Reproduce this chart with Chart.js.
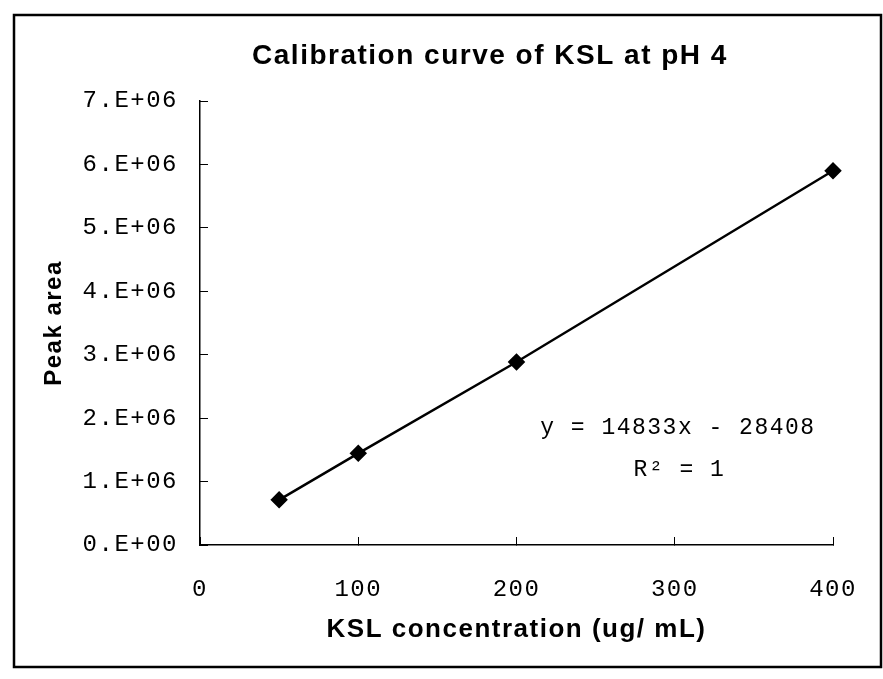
<!DOCTYPE html>
<html>
<head>
<meta charset="utf-8">
<title>Calibration curve of KSL at pH 4</title>
<script src="https://cdn.jsdelivr.net/npm/chart.js@4/dist/chart.umd.min.js"></script>
<style>
  html, body { margin: 0; padding: 0; background: #fff; }
  canvas { display: block; }
</style>
</head>
<body>
<canvas id="calChart" width="883" height="679"></canvas>
<script>
// data
var concentrations = [50, 100, 200, 400];            // ug/mL
var peakAreas = [712000, 1445000, 2885000, 5900000];  // peak area
var xTicks = [0, 100, 200, 300, 400];
var yTicks = [0, 1e6, 2e6, 3e6, 4e6, 5e6, 6e6, 7e6];
var chartTitle = 'Calibration curve of KSL at pH 4';
var equationLines = ['y = 14833x - 28408', 'R\u00b2 = 1'];

var mono = '"Liberation Mono", "DejaVu Sans Mono", monospace';
var sans = '"Liberation Sans", Arial, sans-serif';

function sciLabel(v) {
    if (v === 0) return '0.E+00';
    return Math.round(v / 1e6) + '.E+06';
}

// the scan has loosely spaced letters everywhere
// (canvas resize wipes the context state, so set it again before layout and draw)
function spaceOut(chart) { chart.ctx.letterSpacing = '1.5px'; }
var spacingPlugin = {
    id: 'spacing',
    beforeUpdate: spaceOut,
    beforeLayout: spaceOut,
    beforeDraw: spaceOut
};

// outer frame and the title
var framePlugin = {
    id: 'frame',
    beforeDraw: function (chart) {
        var ctx = chart.ctx;
        ctx.save();
        ctx.fillStyle = '#fff';
        ctx.fillRect(0, 0, chart.width, chart.height);
        ctx.strokeStyle = '#000';
        ctx.lineWidth = 2.5;
        ctx.strokeRect(14, 15, 867, 652);
        ctx.fillStyle = '#000';
        ctx.font = 'bold 28px ' + sans;
        ctx.textAlign = 'center';
        ctx.textBaseline = 'middle';
        ctx.fillText(chartTitle, 490, 56);
        ctx.restore();
    }
};

// trendline equation text
var equationPlugin = {
    id: 'equation',
    afterDatasetsDraw: function (chart) {
        var ctx = chart.ctx;
        var x = chart.scales.x, y = chart.scales.y;
        ctx.save();
        ctx.fillStyle = '#000';
        ctx.font = '23px ' + mono;
        ctx.textAlign = 'center';
        ctx.textBaseline = 'middle';
        ctx.fillText(equationLines[0], x.getPixelForValue(302), y.getPixelForValue(1.84e6));
        ctx.fillText(equationLines[1], x.getPixelForValue(303), y.getPixelForValue(1.18e6));
        ctx.restore();
    }
};

var ctx = document.getElementById('calChart').getContext('2d');
var chart = new Chart(ctx, {
    type: 'scatter',
    data: {
        datasets: [{
            data: concentrations.map(function (c, i) { return { x: c, y: peakAreas[i] }; }),
            showLine: true,
            borderColor: '#000',
            borderWidth: 2.5,
            backgroundColor: '#000',
            pointStyle: 'rectRot',
            pointRadius: 7,
            pointHoverRadius: 7,
            clip: false
        }]
    },
    options: {
        responsive: false,
        animation: false,
        layout: { padding: { left: 0, right: 50, top: 101, bottom: 0 } },
        plugins: {
            legend: { display: false },
            tooltip: { enabled: false },
            title: { display: false }
        },
        scales: {
            x: {
                type: 'linear',
                min: 0,
                max: 400,
                afterBuildTicks: function (s) { s.ticks = xTicks.map(function (v) { return { value: v }; }); },
                afterFit: function (s) {
                    s.height = 134;
                    s.paddingLeft = 0;
                    s.paddingRight = 0;
                },
                border: { color: '#000', width: 1.5 },
                grid: { drawOnChartArea: false, tickLength: -8, color: '#000', tickWidth: 1 },
                ticks: {
                    color: '#000',
                    font: { family: mono, size: 24 },
                    padding: 38,
                    maxRotation: 0
                },
                title: {
                    display: true,
                    text: 'KSL concentration (ug/ mL)',
                    color: '#000',
                    font: { family: sans, size: 26, weight: 'bold' },
                    padding: { top: 0, bottom: 34 }
                }
            },
            y: {
                type: 'linear',
                min: 0,
                max: 7e6,
                afterBuildTicks: function (s) { s.ticks = yTicks.map(function (v) { return { value: v }; }); },
                afterFit: function (s) { s.width = 200; },
                border: { color: '#000', width: 1.5 },
                grid: { drawOnChartArea: false, tickLength: -8, color: '#000', tickWidth: 1 },
                ticks: {
                    color: '#000',
                    font: { family: mono, size: 24 },
                    padding: 30,
                    callback: function (v) { return sciLabel(v); }
                },
                title: {
                    display: true,
                    text: 'Peak area',
                    color: '#000',
                    font: { family: sans, size: 24, weight: 'bold' },
                    padding: { top: 40, bottom: 0 }
                }
            }
        }
    },
    plugins: [spacingPlugin, framePlugin, equationPlugin]
});
</script>
</body>
</html>
